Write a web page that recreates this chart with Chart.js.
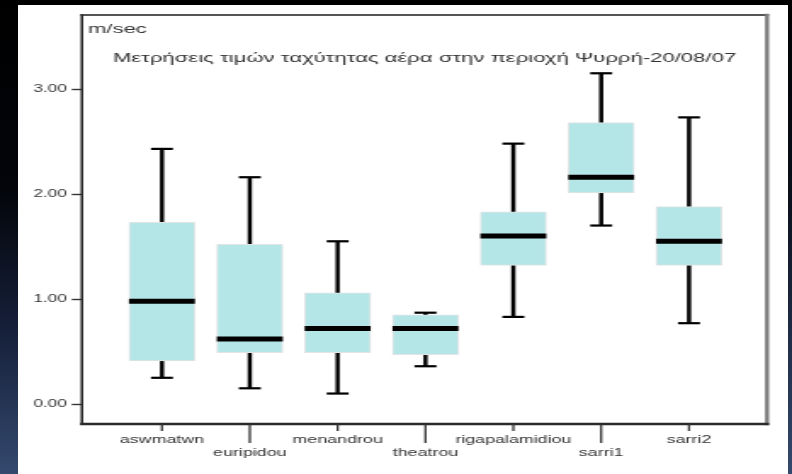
<!DOCTYPE html>
<html>
<head>
<meta charset="utf-8">
<script src="https://cdn.jsdelivr.net/npm/chart.js@4.4.1/dist/chart.umd.min.js"></script>
<style>
  html, body { margin: 0; padding: 0; width: 792px; height: 474px; overflow: hidden; background: #000; position: relative; }
  #edgeLeft { position: absolute; left: 0; top: 0; width: 18px; height: 474px;
    background: linear-gradient(to bottom, #000 0%, #03050a 40%, #16203a 70%, #34496e 100%); }
  #edgeRight { position: absolute; left: 788px; top: 0; width: 4px; height: 474px;
    background: linear-gradient(to bottom, #000 0%, #0a0f1a 40%, #22304c 75%, #34496e 100%); }
  #sheet { position: absolute; left: 18px; top: 5px; width: 770px; height: 469px; background: #fff; }
  #chart { position: absolute; left: 0; top: 0; }
</style>
</head>
<body>
<div id="edgeLeft"></div>
<div id="edgeRight"></div>
<div id="sheet"></div>
<canvas id="chart" width="466" height="474" style="width:792px;height:474px"></canvas>
<script>
// Wind speed (m/sec) per measuring point, Psyrri 20/08/07
const categories   = ['aswmatwn', 'euripidou', 'menandrou', 'theatrou', 'rigapalamidiou', 'sarri1', 'sarri2'];
const whiskerLow   = [0.25, 0.15, 0.10, 0.36, 0.83, 1.70, 0.77];
const quartile1    = [0.41, 0.49, 0.49, 0.47, 1.32, 2.01, 1.32];
const medians      = [0.98, 0.62, 0.72, 0.72, 1.60, 2.16, 1.55];
const quartile3    = [1.73, 1.52, 1.06, 0.85, 1.83, 2.68, 1.88];
const whiskerHigh  = [2.43, 2.16, 1.55, 0.87, 2.48, 3.15, 2.73];
const yTickValues  = [0, 1, 2, 3];
const titleText    = 'Μετρήσεις τιμών ταχύτητας αέρα στην περιοχή Ψυρρή-20/08/07';
const unitText     = 'm/sec';

const FONT = '"Liberation Sans", Arial, Helvetica, sans-serif';
const INK = '#333333';

const range = (lo, hi) => categories.map((_, i) => ({ x: i, y: [lo[i], hi[i]] }));

// caps, medians, frame, category tick marks and the inner captions
const boxDecor = {
  id: 'boxDecor',
  afterDatasetsDraw(chart) {
    const { ctx, scales: { x, y } } = chart;
    const boxMeta = chart.getDatasetMeta(2);
    ctx.save();
    ctx.strokeStyle = '#000';
    categories.forEach((c, i) => {
      const cx = x.getPixelForValue(i);
      const capHalf = x.getPixelForValue(i + 0.125) - cx;
      ctx.lineWidth = 2.2;
      [whiskerLow[i], whiskerHigh[i]].forEach(v => {
        const py = y.getPixelForValue(v);
        ctx.beginPath(); ctx.moveTo(cx - capHalf, py); ctx.lineTo(cx + capHalf, py); ctx.stroke();
      });
      const bar = boxMeta.data[i];
      const pm = y.getPixelForValue(medians[i]);
      ctx.lineWidth = 5;
      ctx.beginPath(); ctx.moveTo(bar.x - bar.width / 2, pm); ctx.lineTo(bar.x + bar.width / 2, pm); ctx.stroke();
    });
    ctx.restore();
  },
  afterDraw(chart) {
    const { ctx, chartArea: a, scales: { x } } = chart;
    ctx.save();
    // frame
    ctx.lineCap = 'square';
    ctx.strokeStyle = '#555'; ctx.lineWidth = 2;
    ctx.beginPath(); ctx.moveTo(a.left, a.top); ctx.lineTo(a.right, a.top); ctx.stroke();
    ctx.strokeStyle = '#7d7d7d'; ctx.lineWidth = 2.4;
    ctx.beginPath(); ctx.moveTo(a.right, a.top); ctx.lineTo(a.right, a.bottom); ctx.stroke();
    ctx.strokeStyle = '#2a2a2a'; ctx.lineWidth = 1.6;
    ctx.beginPath(); ctx.moveTo(a.left, a.top); ctx.lineTo(a.left, a.bottom); ctx.stroke();
    ctx.lineWidth = 2.4;
    ctx.beginPath(); ctx.moveTo(a.left, a.bottom); ctx.lineTo(a.right, a.bottom); ctx.stroke();
    // category tick marks, longer under the staggered labels
    ctx.lineCap = 'butt';
    ctx.strokeStyle = INK; ctx.lineWidth = 1.3;
    categories.forEach((c, i) => {
      const px = x.getPixelForValue(i);
      const len = i % 2 ? 19 : 7;
      ctx.beginPath(); ctx.moveTo(px, a.bottom); ctx.lineTo(px, a.bottom + len); ctx.stroke();
    });
    // unit and title inside the frame
    ctx.fillStyle = INK;
    ctx.textBaseline = 'middle';
    ctx.font = '13px ' + FONT;
    ctx.textAlign = 'left';
    ctx.fillText(unitText, a.left + 3.5, 29);
    ctx.textAlign = 'center';
    ctx.fillText(titleText, 249.8, 58);
    ctx.restore();
  }
};

new Chart(document.getElementById('chart'), {
  type: 'bar',
  data: {
    datasets: [
      { label: 'low', data: range(whiskerLow, quartile1), backgroundColor: '#000', barThickness: 1.8, grouped: false, order: 2 },
      { label: 'high', data: range(quartile3, whiskerHigh), backgroundColor: '#000', barThickness: 1.8, grouped: false, order: 2 },
      { label: 'box', data: range(quartile1, quartile3), backgroundColor: '#b4e6e8', borderColor: '#e4e4e4',
        borderWidth: 1, borderSkipped: false, barThickness: 38.8, grouped: false, order: 1 }
    ]
  },
  options: {
    responsive: false,
    devicePixelRatio: 1,
    animation: false,
    layout: { padding: { left: 0, right: 14.7, top: 15, bottom: 0 } },
    plugins: { legend: { display: false }, tooltip: { enabled: false } },
    scales: {
      x: {
        type: 'linear',
        offset: false,
        min: -0.911, max: 6.888,
        grid: { display: false, drawTicks: false, offset: false },
        border: { display: false },
        afterBuildTicks: s => { s.ticks = categories.map((_, i) => ({ value: i })); },
        afterFit: s => { s.height = 50; },
        ticks: {
          autoSkip: false, maxRotation: 0, minRotation: 0, padding: 10.5,
          color: INK, font: { family: FONT, size: 10.5, lineHeight: 1.15 },
          callback: v => (v % 2 ? ['', categories[v]] : categories[v])
        }
      },
      y: {
        min: -0.19, max: 3.705,
        grid: { drawOnChartArea: false, drawTicks: true, tickLength: 6, tickColor: INK, tickWidth: 1.4 },
        border: { display: false },
        afterBuildTicks: s => { s.ticks = yTickValues.map(v => ({ value: v })); },
        afterFit: s => { s.width = 48.2; },
        ticks: {
          padding: 3, color: INK, font: { family: FONT, size: 10 },
          callback: v => Number(v).toFixed(2)
        }
      }
    }
  },
  plugins: [boxDecor]
});
</script>
</body>
</html>
